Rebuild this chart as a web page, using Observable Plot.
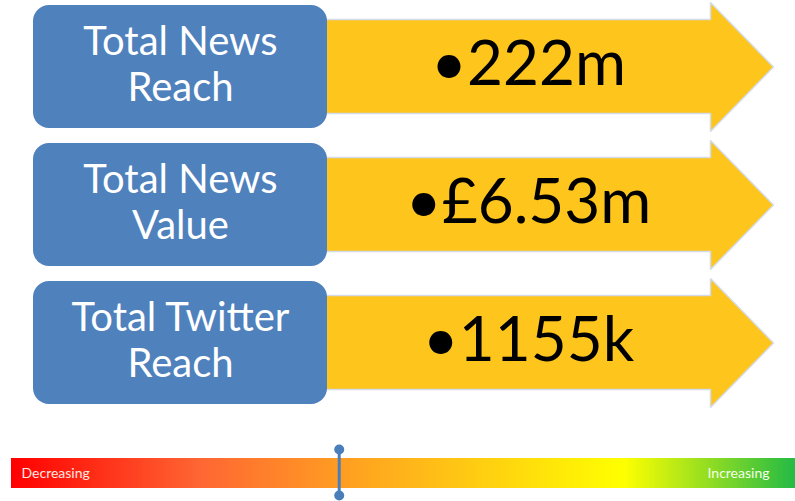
<!DOCTYPE html>
<html>
<head>
<meta charset="utf-8">
<script src="https://cdn.jsdelivr.net/npm/d3@7"></script>
<script src="https://cdn.jsdelivr.net/npm/@observablehq/plot@0.6"></script>
<style>
  html, body { margin: 0; padding: 0; background: #fff; }
  #chart svg { display: block; }
</style>
</head>
<body>
<div id="chart"></div>
<script>
// ---- data ----
const labels = ["Total News\nReach", "Total News\nValue", "Total Twitter\nReach"];
const values = ["\u2022222m", "\u2022\u00a36.53m", "\u20221155k"];
const scaleLabels = ["Decreasing", "Increasing"];
const markerPosition = 0.418;           // fraction along the Decreasing→Increasing scale
const gradientStops = [0, 0.24, 0.45, 0.78, 1];
const gradientColors = ["#ff0000", "#ff6633", "#ffa61f", "#ffff00", "#22ba45"];

// ---- layout ----
const W = 795, H = 501;
const rowTop = 5, rowStep = 138, boxH = 123;
const boxX1 = 33, boxX2 = 327;
const arrowX1 = 318, headX = 710, tipX = 773;
const bodyInset = 14, headOut = 3;
const barX1 = 11, barX2 = 795, barY1 = 458, barY2 = 488;

const rows = labels.map((label, i) => ({i, label, value: values[i], top: rowTop + i * rowStep}));

const arrowPts = rows.flatMap(r => {
  const t = r.top, b = r.top + boxH, c = r.top + boxH / 2;
  return [
    [arrowX1, t + bodyInset], [headX, t + bodyInset], [headX, t - headOut],
    [tipX, c], [headX, b + headOut], [headX, b - bodyInset - 1], [arrowX1, b - bodyInset - 1],
    [arrowX1, t + bodyInset]
  ].map(([x, y]) => ({row: r.i, x, y}));
});

const N = 392;
const slices = d3.range(N).map(k => ({t: k / N, t2: (k + 1) / N}));
const bx = t => barX1 + t * (barX2 - barX1);

const plot = Plot.plot({
  width: W, height: H,
  margin: 0,
  x: {domain: [0, W], range: [0, W], axis: null},
  y: {domain: [0, H], range: [0, H], axis: null},
  color: {type: "linear", domain: gradientStops, range: gradientColors, interpolate: "rgb"},
  style: {fontFamily: "Lato, sans-serif", background: "#fff"},
  marks: [
    // arrows
    Plot.line(arrowPts, {x: "x", y: "y", z: "row", fill: "#fec51c", stroke: "#d4dbe8", strokeWidth: 1.5, curve: "linear", strokeLinejoin: "miter"}),
    // blue label boxes
    Plot.rect(rows, {x1: boxX1, x2: boxX2, y1: "top", y2: d => d.top + boxH, fill: "#4f81bd", rx: 16}),
    Plot.text(rows, {x: (boxX1 + boxX2) / 2, y: d => d.top + boxH / 2 - 4, text: "label", fill: "white", fontSize: 40, lineHeight: 1.15, textAnchor: "middle", fontFamily: "Lato"}),
    Plot.text(rows, {x: 528, y: d => d.top + boxH / 2 - 2, text: "value", fill: "black", fontSize: 62, textAnchor: "middle", fontFamily: "Lato"}),
    // gradient scale
    Plot.rect(slices, {x1: d => bx(d.t), x2: d => bx(d.t2) + 0.6, y1: barY1, y2: barY2, fill: "t"}),
    Plot.text([scaleLabels[0]], {x: 21, y: (barY1 + barY2) / 2, text: d => d, textAnchor: "start", fill: "#ffe8e0", fontSize: 14, fontFamily: "Lato"}),
    Plot.text([scaleLabels[1]], {x: 769, y: (barY1 + barY2) / 2, text: d => d, textAnchor: "end", fill: "#f4ffe8", fontSize: 14, fontFamily: "Lato"}),
    // marker
    Plot.ruleX([markerPosition], {x: d => bx(d), y1: 449, y2: 495, stroke: "#4a7ebb", strokeWidth: 3}),
    Plot.dot([449, 495], {x: bx(markerPosition), y: d => d, r: 5, fill: "#4a7ebb"})
  ]
});
document.getElementById("chart").append(plot);
</script>
</body>
</html>
